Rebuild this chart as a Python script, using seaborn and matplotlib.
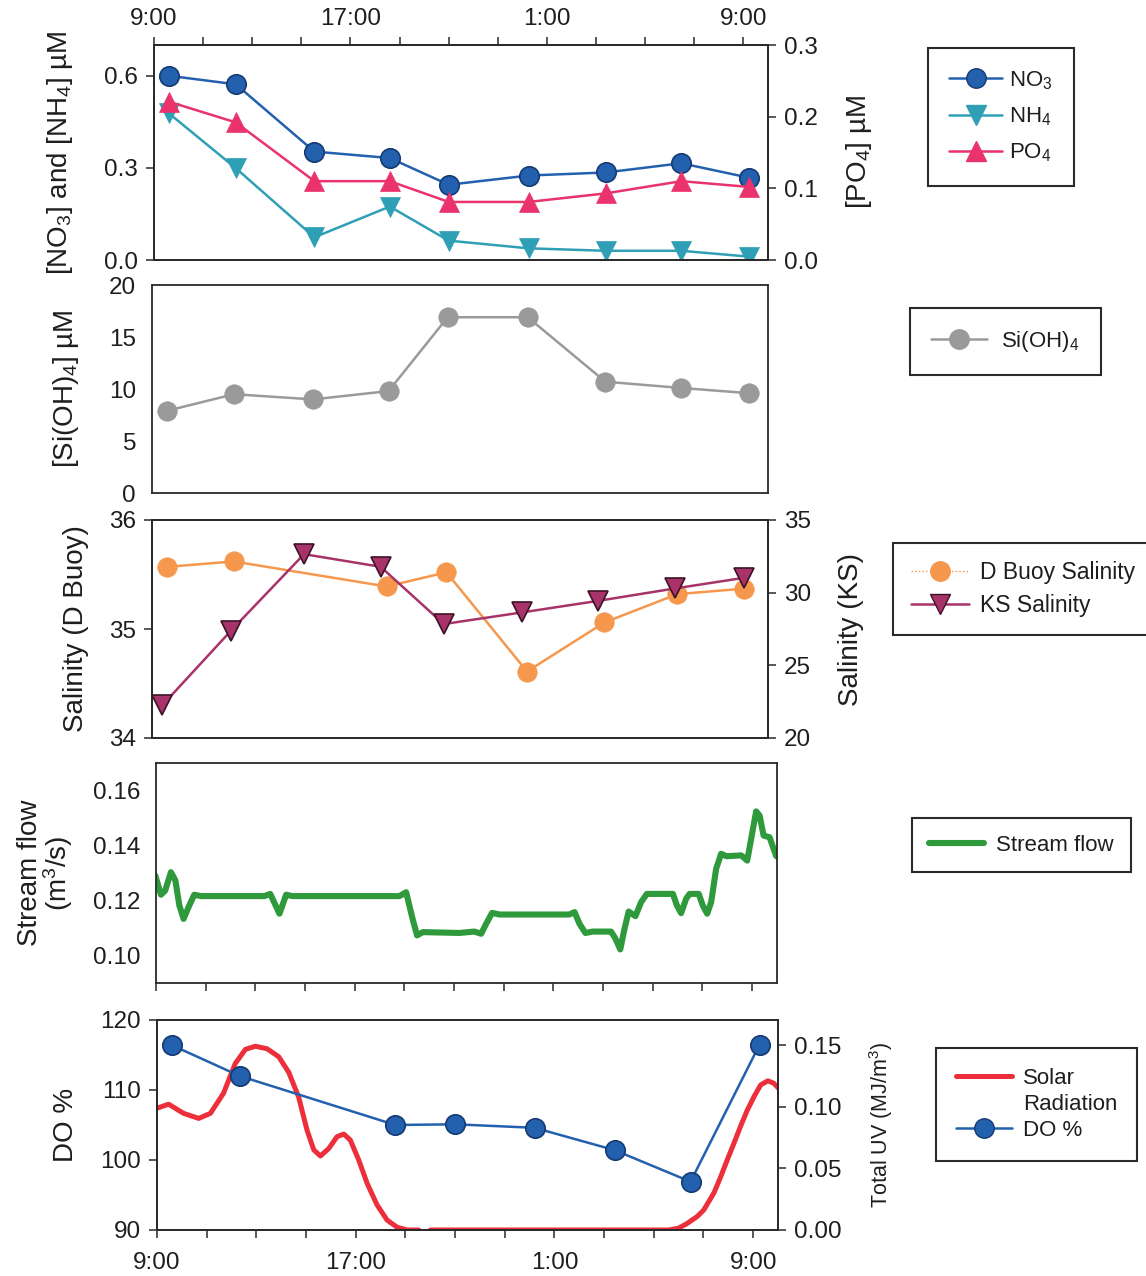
import numpy as np
import pandas as pd
import matplotlib
matplotlib.use("Agg")
import matplotlib.pyplot as plt
import seaborn as sns
from matplotlib.lines import Line2D

# ---------------------------------------------------------------------------
# Data (time in hours from midnight of the first day; 25 h = 1:00 next day)
# ---------------------------------------------------------------------------
nut_time = [9.6, 12.33, 15.53, 18.6, 21.0, 24.25, 27.4, 30.47, 33.22]
no3 = [0.60, 0.572, 0.353, 0.332, 0.245, 0.275, 0.285, 0.315, 0.268]
nh4 = [0.478, 0.299, 0.074, 0.174, 0.063, 0.038, 0.030, 0.030, 0.011]
po4 = [0.221, 0.192, 0.110, 0.110, 0.081, 0.081, 0.093, 0.110, 0.102]
sioh4 = [7.9, 9.5, 9.0, 9.8, 16.9, 16.9, 10.7, 10.1, 9.6]

dbuoy_time = [9.62, 12.31, 18.52, 20.95, 24.22, 27.36, 30.32, 33.02]
dbuoy_sal = [35.57, 35.62, 35.39, 35.52, 34.61, 35.06, 35.32, 35.37]
ks_time = [9.41, 12.21, 15.17, 18.28, 20.84, 24.01, 27.12, 30.22, 33.02]
ks_sal = [22.24, 27.39, 32.65, 31.78, 27.84, 28.64, 29.44, 30.29, 31.02]

flow_time = [8.97, 9.2, 9.37, 9.6, 9.78, 9.94, 10.11, 10.34, 10.54, 10.81,
             13.36, 13.6, 13.97, 14.24, 14.5, 18.8, 19.07, 19.33, 19.51, 19.74,
             21.21, 21.82, 22.09, 22.29, 22.53, 22.83, 25.64, 25.85, 26.05, 26.29,
             26.58, 27.32, 27.5, 27.69, 27.86, 28.03, 28.3, 28.53, 28.76, 29.81,
             29.97, 30.14, 30.34, 30.48, 30.85, 31.01, 31.19, 31.35, 31.55, 31.75,
             31.96, 32.56, 32.8, 32.96, 33.16, 33.3, 33.46, 33.7, 33.97]
flow = [0.1291, 0.1221, 0.1236, 0.1303, 0.1273, 0.1182, 0.1133, 0.1182, 0.1221, 0.1216,
        0.1216, 0.1224, 0.1152, 0.1221, 0.1216, 0.1216, 0.1230, 0.1133, 0.1073, 0.1085,
        0.1082, 0.1087, 0.1079, 0.1115, 0.1155, 0.1149, 0.1149, 0.1158, 0.1115, 0.1082,
        0.1087, 0.1087, 0.1061, 0.1022, 0.1097, 0.1160, 0.1143, 0.1194, 0.1224, 0.1224,
        0.1182, 0.1154, 0.1206, 0.1224, 0.1224, 0.1182, 0.1152, 0.1194, 0.1315, 0.1370,
        0.1361, 0.1364, 0.1345, 0.1424, 0.1524, 0.1509, 0.1436, 0.1430, 0.1361]

# solar UV record, two pieces separated by a short data gap
uv_time = [8.97, 9.47, 10.07, 10.68, 11.15, 11.68, 12.15, 12.56, 12.96, 13.43,
           13.90, 14.30, 14.70, 15.04, 15.31, 15.58, 15.91, 16.25, 16.52, 16.78,
           17.12, 17.46, 17.86, 18.26, 18.67, 19.07, 19.54,
           20.0, 29.6, 30.0, 30.35, 30.75, 31.01, 31.42, 31.69, 31.96, 32.22,
           32.49, 32.76, 33.03, 33.30, 33.59, 33.83, 34.02]
uv = [0.0986, 0.102, 0.0946, 0.0905, 0.0946, 0.111, 0.135, 0.1465, 0.149, 0.147,
      0.1405, 0.128, 0.108, 0.081, 0.065, 0.060, 0.066, 0.0757, 0.0778, 0.073,
      0.0568, 0.0378, 0.0203, 0.0081, 0.0022, 0.0, 0.0,
      0.0, 0.0, 0.0015, 0.0054, 0.011, 0.0162, 0.030, 0.043, 0.057, 0.070,
      0.084, 0.097, 0.108, 0.1176, 0.121, 0.119, 0.115]
uv_piece = [1] * 27 + [2] * 17

do_time = [9.60, 12.33, 18.6, 21.01, 24.2, 27.43, 30.48, 33.26]
do_pct = [116.4, 112.0, 105.0, 105.1, 104.6, 101.4, 96.9, 116.5]

hour_ticks = list(range(9, 35, 2))
label_hours = [9, 17, 25, 33]
label_text = ["9:00", "17:00", "1:00", "9:00"]

# ---------------------------------------------------------------------------
sns.set_theme(style="white")
plt.rcParams["font.family"] = ["Liberation Sans", "DejaVu Sans"]
plt.rcParams["mathtext.fontset"] = "custom"
plt.rcParams["mathtext.rm"] = "Liberation Sans"
plt.rcParams["mathtext.it"] = "Liberation Sans:italic"
plt.rcParams["mathtext.bf"] = "Liberation Sans:bold"

W, H = 1146, 1276
fig = plt.figure(figsize=(W / 100, H / 100), dpi=100)
fig.patch.set_facecolor("white")


def make_axes(left, right, top, bottom):
    return fig.add_axes([left / W, 1 - bottom / H, (right - left) / W, (bottom - top) / H])


INK = "#2a2a2a"
TXT = "#1e1e1e"
TICK_FS = 17.5
LABEL_FS = 20
LEG_FS = 16


def style(ax):
    ax.set_facecolor("none")
    for s in ax.spines.values():
        s.set_visible(True)
        s.set_color(INK)
        s.set_linewidth(1.3)
    ax.tick_params(direction="out", length=5.5, width=1.1, color=INK,
                   labelsize=TICK_FS, labelcolor=TXT, pad=6)
    ax.set_xlim(9, 34)


def time_axis(ax, where):
    ax.set_xticks(hour_ticks)
    ax.set_xticklabels([label_text[label_hours.index(h)] if h in label_hours else ""
                        for h in hour_ticks])
    if where == "top":
        ax.tick_params(axis="x", top=True, bottom=False, labeltop=True,
                       labelbottom=False, pad=5)
    elif where == "bottom":
        ax.tick_params(axis="x", top=False, bottom=True, labeltop=False,
                       labelbottom=True, pad=10)
    else:
        ax.tick_params(axis="x", top=False, bottom=True, labeltop=False,
                       labelbottom=False)


def no_x(ax):
    ax.set_xticks([])
    ax.tick_params(axis="x", bottom=False, top=False, labelbottom=False)


def boxed_legend(handles, labels, x, y, **kw):
    opts = dict(loc="upper left", bbox_to_anchor=(x / W, 1 - y / H),
                bbox_transform=fig.transFigure, frameon=True, fancybox=False,
                framealpha=1, edgecolor=INK, fontsize=LEG_FS, handlelength=2.5,
                handletextpad=0.5, borderpad=0.8, borderaxespad=0)
    opts.update(kw)
    leg = fig.legend(handles, labels, **opts)
    leg.get_frame().set_linewidth(1.5)
    for t in leg.get_texts():
        t.set_color(TXT)
    return leg


BLUE, BLUE_EDGE = "#2360ad", "#163b73"
TEAL = "#2f9fb6"
PINK = "#ea336d"
GREY = "#9a9a9a"
ORANGE = "#f5984d"
MAROON, MAROON_EDGE = "#a8336a", "#3b1326"
GREEN = "#2f9a3c"
RED = "#ec2f3b"

# ---------------- Panel 1: NO3, NH4 (left) and PO4 (right) ----------------
ax1 = make_axes(154, 768, 45, 260)
sns.lineplot(x=nut_time, y=no3, ax=ax1, color=BLUE, marker="o", markersize=14,
             markeredgecolor=BLUE_EDGE, markeredgewidth=1.2, linewidth=1.8,
             errorbar=None, legend=False)
sns.lineplot(x=nut_time, y=nh4, ax=ax1, color=TEAL, marker="v", markersize=14,
             markeredgecolor=TEAL, markeredgewidth=0.5, linewidth=1.8,
             errorbar=None, legend=False)
ax1.set_ylim(0, 0.7)
ax1.set_yticks([0.0, 0.3, 0.6])
ax1.set_yticklabels(["0.0", "0.3", "0.6"])
ax1r = ax1.twinx()
sns.lineplot(x=nut_time, y=po4, ax=ax1r, color=PINK, marker="^", markersize=14,
             markeredgecolor=PINK, markeredgewidth=0.5, linewidth=1.8,
             errorbar=None, legend=False)
ax1r.set_ylim(0, 0.3)
ax1r.set_yticks([0.0, 0.1, 0.2, 0.3])
ax1r.set_yticklabels(["0.0", "0.1", "0.2", "0.3"])
for a in (ax1, ax1r):
    style(a)
time_axis(ax1, "top")
ax1.set_ylabel(r"[NO$_3$] and [NH$_4$] µM", fontsize=LABEL_FS, color=TXT)
ax1.yaxis.set_label_coords(-0.128, 0.5)
ax1r.set_ylabel(r"[PO$_4$] µM", fontsize=LABEL_FS, color=TXT, rotation=90)
ax1r.yaxis.set_label_coords(1.123, 0.5)
ax1.set_xlabel("")
ax1r.set_xlabel("")

boxed_legend(
    [Line2D([], [], color=BLUE, marker="o", markersize=14, markeredgecolor=BLUE_EDGE, lw=1.8),
     Line2D([], [], color=TEAL, marker="v", markersize=14, lw=1.8),
     Line2D([], [], color=PINK, marker="^", markersize=14, lw=1.8)],
    [r"NO$_3$", r"NH$_4$", r"PO$_4$"], 928, 48, labelspacing=0.62, borderpad=0.95,
    handlelength=2.4, handletextpad=0.3)

# ---------------- Panel 2: Si(OH)4 ----------------
ax2 = make_axes(152, 768, 285, 493)
sns.lineplot(x=nut_time, y=sioh4, ax=ax2, color=GREY, marker="o", markersize=14,
             markeredgecolor=GREY, markeredgewidth=0.5, linewidth=1.8,
             errorbar=None, legend=False)
style(ax2)
ax2.set_ylim(0, 20)
ax2.set_yticks([0, 5, 10, 15, 20])
no_x(ax2)
ax2.set_ylabel(r"[Si(OH)$_4$] µM", fontsize=LABEL_FS, color=TXT)
ax2.yaxis.set_label_coords(-0.115, 0.5)
boxed_legend([Line2D([], [], color=GREY, marker="o", markersize=14, lw=1.8)],
             [r"Si(OH)$_4$"], 910, 308, handletextpad=0.65, borderpad=0.95)

# ---------------- Panel 3: salinity ----------------
ax3 = make_axes(152, 768, 520, 738)
sns.lineplot(x=dbuoy_time, y=dbuoy_sal, ax=ax3, color=ORANGE, marker="o",
             markersize=14, markeredgecolor=ORANGE, markeredgewidth=0.5,
             linewidth=1.8, errorbar=None, legend=False)
ax3.set_ylim(34, 36)
ax3.set_yticks([34, 35, 36])
ax3r = ax3.twinx()
sns.lineplot(x=ks_time, y=ks_sal, ax=ax3r, color=MAROON, marker="v", markersize=14,
             markeredgecolor=MAROON_EDGE, markeredgewidth=1.2, linewidth=1.8,
             errorbar=None, legend=False)
ax3r.set_ylim(20, 35)
ax3r.set_yticks([20, 25, 30, 35])
for a in (ax3, ax3r):
    style(a)
no_x(ax3)
ax3.set_ylabel("Salinity (D Buoy)", fontsize=LABEL_FS, color=TXT)
ax3.yaxis.set_label_coords(-0.102, 0.5)
ax3r.set_ylabel("Salinity (KS)", fontsize=LABEL_FS, color=TXT, rotation=90)
ax3r.yaxis.set_label_coords(1.113, 0.5)
boxed_legend(
    [Line2D([], [], color=ORANGE, marker="o", markersize=14, lw=1.0, ls=":"),
     Line2D([], [], color=MAROON, marker="v", markersize=14,
            markeredgecolor=MAROON_EDGE, lw=1.8)],
    ["D Buoy Salinity", "KS Salinity"], 893, 543, labelspacing=0.42,
    fontsize=16.5, borderpad=0.8)

# ---------------- Panel 4: stream flow ----------------
ax4 = make_axes(156, 777, 763, 983)
sns.lineplot(x=flow_time, y=flow, ax=ax4, color=GREEN, linewidth=4.4,
             errorbar=None, legend=False, solid_joinstyle="round",
             solid_capstyle="round")
style(ax4)
ax4.set_ylim(0.09, 0.17)
ax4.set_yticks([0.10, 0.12, 0.14, 0.16])
ax4.set_yticklabels(["0.10", "0.12", "0.14", "0.16"])
time_axis(ax4, "none")
ax4.set_ylabel("Stream flow\n" + r"(m$^3$/s)", fontsize=LABEL_FS, color=TXT,
               linespacing=0.95)
ax4.yaxis.set_label_coords(-0.13, 0.5)
boxed_legend([Line2D([], [], color=GREEN, lw=4.4, solid_capstyle="round")],
             ["Stream flow"], 912, 818, handletextpad=0.55, borderpad=0.75)

# ---------------- Panel 5: DO % and solar UV ----------------
ax5 = make_axes(157, 778, 1020, 1230)
ax5r = ax5.twinx()
uv_df = pd.DataFrame({"time": uv_time, "uv": uv, "piece": uv_piece})
sns.lineplot(data=uv_df, x="time", y="uv", units="piece", estimator=None, ax=ax5r,
             color=RED, linewidth=3.6, legend=False)
sns.lineplot(x=do_time, y=do_pct, ax=ax5, color=BLUE, marker="o", markersize=14,
             markeredgecolor=BLUE_EDGE, markeredgewidth=1.2, linewidth=1.8,
             errorbar=None, legend=False)
ax5.set_zorder(ax5r.get_zorder() + 1)
ax5.patch.set_visible(False)
ax5.set_ylim(90, 120)
ax5.set_yticks([90, 100, 110, 120])
ax5r.set_ylim(0, 0.1703)
ax5r.set_yticks([0.0, 0.05, 0.10, 0.15])
ax5r.set_yticklabels(["0.00", "0.05", "0.10", "0.15"])
for a in (ax5, ax5r):
    style(a)
time_axis(ax5, "bottom")
ax5.set_xlabel("")
ax5r.set_xlabel("")
ax5.set_ylabel("DO %", fontsize=LABEL_FS, color=TXT)
ax5.yaxis.set_label_coords(-0.125, 0.5)
ax5r.set_ylabel(r"Total UV (MJ/m$^3$)", fontsize=15.5, color=TXT, rotation=90)
ax5r.yaxis.set_label_coords(1.143, 0.5)
boxed_legend(
    [Line2D([], [], color=RED, lw=3.6),
     Line2D([], [], color="none"),
     Line2D([], [], color=BLUE, marker="o", markersize=14,
            markeredgecolor=BLUE_EDGE, lw=1.8)],
    ["Solar", "Radiation", "DO %"], 936, 1048, labelspacing=0.22, borderpad=0.9)

fig.savefig("out.png", dpi=100, facecolor="white")
